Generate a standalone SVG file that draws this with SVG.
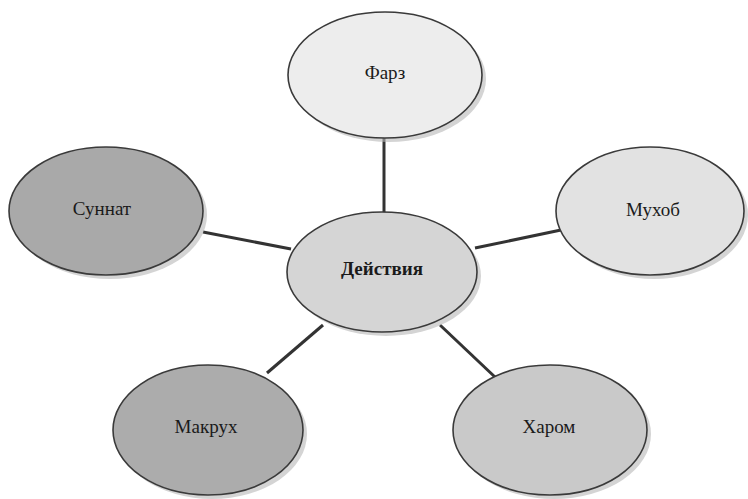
<svg xmlns="http://www.w3.org/2000/svg" width="748" height="499" viewBox="0 0 748 499">
<style>
.node ellipse.e{stroke:#3a3a3a;stroke-width:1.6}
.node ellipse.s{fill:#b8b8b8;opacity:0.6}
.node text{font-family:"Liberation Serif","Times New Roman",serif;font-size:19px;fill:#1a1a1a;text-anchor:middle;dominant-baseline:central}
.edges line{stroke:#333;stroke-width:3}
</style>
<rect width="748" height="499" fill="#ffffff"/>
<g class="edges">
<line x1="384" y1="138" x2="384" y2="213"/>
<line x1="203" y1="232" x2="291" y2="249"/>
<line x1="475" y1="248" x2="561" y2="230"/>
<line x1="323" y1="325" x2="267" y2="373"/>
<line x1="440" y1="325" x2="496" y2="378"/>
</g>
<g id="farz" class="node">
<ellipse class="s" cx="389" cy="79" rx="97" ry="63"/>
<ellipse class="e" cx="385" cy="75" rx="97" ry="63" fill="#ededed"/>
<text x="385" y="72">Фарз</text>
</g>
<g id="sunnat" class="node">
<ellipse class="s" cx="110" cy="215" rx="97" ry="64"/>
<ellipse class="e" cx="106" cy="211" rx="97" ry="64" fill="#a9a9a9"/>
<text x="102" y="208">Суннат</text>
</g>
<g id="deystviya" class="node">
<ellipse class="s" cx="386" cy="276" rx="95" ry="60"/>
<ellipse class="e" cx="382" cy="272" rx="95" ry="60" fill="#d5d5d5"/>
<text x="382" y="268" font-weight="bold" font-size="20px">Действия</text>
</g>
<g id="mukhob" class="node">
<ellipse class="s" cx="654" cy="215" rx="94" ry="64"/>
<ellipse class="e" cx="650" cy="211" rx="94" ry="64" fill="#e2e2e2"/>
<text x="653" y="209">Мухоб</text>
</g>
<g id="makrukh" class="node">
<ellipse class="s" cx="212" cy="434" rx="95" ry="65"/>
<ellipse class="e" cx="208" cy="430" rx="95" ry="65" fill="#acacac"/>
<text x="206" y="426">Макрух</text>
</g>
<g id="kharom" class="node">
<ellipse class="s" cx="554" cy="434" rx="97" ry="65"/>
<ellipse class="e" cx="550" cy="430" rx="97" ry="65" fill="#c9c9c9"/>
<text x="549" y="426">Харом</text>
</g>
</svg>
